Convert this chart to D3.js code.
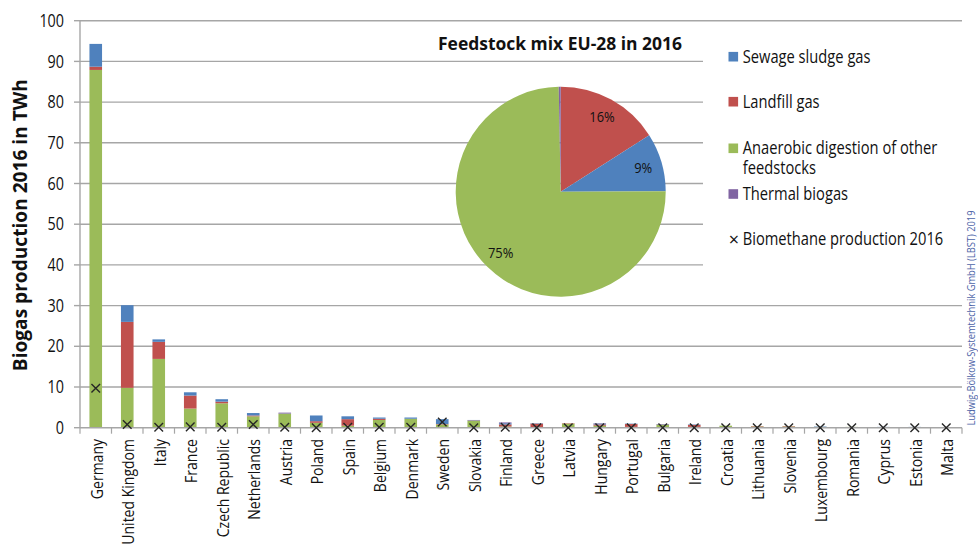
<!DOCTYPE html>
<html><head><meta charset="utf-8">
<script src="https://cdn.jsdelivr.net/npm/d3@7"></script>
<style>body{margin:0;background:#fff;} svg{display:block;} text{font-family:"Open Sans",sans-serif;fill:#111;}</style>
</head><body><svg id="c" width="978" height="544"></svg>
<script>
// ---------- data ----------
const countries = ["Germany","United Kingdom","Italy","France","Czech Republic","Netherlands","Austria","Poland","Spain","Belgium","Denmark","Sweden","Slovakia","Finland","Greece","Latvia","Hungary","Portugal","Bulgaria","Ireland","Croatia","Lithuania","Slovenia","Luxembourg","Romania","Cyprus","Estonia","Malta"];
const anaerobic = [87.9,9.8,16.9,4.7,6.0,2.8,3.4,1.2,0.5,1.9,2.2,0.8,1.7,0.3,0.1,1.0,0.5,0.2,0.7,0.2,0.5,0.3,0.3,0.2,0.2,0.1,0.1,0];
const landfill  = [0.8,16.2,4.2,3.2,0.4,0.2,0.1,0.4,1.6,0.3,0,0.1,0.1,0.5,0.9,0.1,0.3,0.7,0.1,0.5,0,0.1,0.1,0,0,0,0,0];
const sewage    = [5.6,4.1,0.6,0.8,0.6,0.6,0.1,1.4,0.7,0.3,0.3,1.2,0.1,0.3,0.1,0,0.2,0.1,0.1,0.1,0,0,0,0.1,0,0.1,0.1,0];
const thermal   = [0,0,0,0,0,0,0.1,0,0,0,0,0,0,0.2,0,0,0.1,0,0,0,0,0,0,0,0,0,0,0];
const biomethane= [9.7,0.8,0.1,0.2,0.1,0.8,0.1,0,0.1,0.1,0.1,1.4,0,0.1,0,0,0,0,0,0,0,0,0,0,0,0,0,0];
const yTicks = [0,10,20,30,40,50,60,70,80,90,100];
const pieLabels = ["Landfill gas","Sewage sludge gas","Anaerobic digestion of other feedstocks","Thermal biogas"];
const pieValues = [16,9,75,0.3];
const pieText = ["16%","9%","75%",""];
const legendLabels = [["Sewage sludge gas"],["Landfill gas"],["Anaerobic digestion of other","feedstocks"],["Thermal biogas"],["Biomethane production 2016"]];
const titleText = "Feedstock mix EU-28 in 2016";
const yLabel = "Biogas production 2016 in TWh";
const credit = "Ludwig-Bölkow-Systemtechnik GmbH (LBST)  2019";

// ---------- styles ----------
const C = {sewage:"#4f81bd", landfill:"#c0504d", anaerobic:"#9bbb59", thermal:"#8064a2", grid:"#a6a6a6"};
const svg = d3.select("#c");
const x = d3.scaleBand().domain(countries).range([80,962]).padding(0);
const y = d3.scaleLinear().domain([0,100]).range([427.7,20.7]);

function ct(g,px,py,str,o){
  return g.append("text")
    .attr("transform",`translate(${px},${py}) rotate(${o.rot||0}) scale(${o.sx||0.85},1)`)
    .attr("text-anchor",o.anchor||"start")
    .attr("dy",o.dy||"0.35em")
    .style("font-size",o.size+"px")
    .style("font-weight",o.weight||400)
    .text(str);
}

// gridlines
svg.append("g").selectAll("line").data(yTicks.filter(d=>d>0)).join("line")
  .attr("x1",80).attr("x2",962).attr("y1",d=>y(d)).attr("y2",d=>y(d))
  .attr("stroke",C.grid).attr("stroke-width",1.4);
// legend area covers grid
svg.append("rect").attr("x",703).attr("y",30).attr("width",262).attr("height",246).attr("fill","#fff");

// y axis
const ya = svg.append("g");
ya.append("line").attr("x1",80).attr("x2",80).attr("y1",y(100)).attr("y2",y(0)).attr("stroke",C.grid).attr("stroke-width",1.4);
ya.selectAll(".t").data(yTicks).join("line").attr("x1",74).attr("x2",80).attr("y1",d=>y(d)).attr("y2",d=>y(d)).attr("stroke",C.grid).attr("stroke-width",1.4);
yTicks.forEach(d=>ct(ya,64,y(d),String(d),{size:17.5,anchor:"end",sx:0.82}));
svg.append("text").attr("transform",`translate(27,${(y(0)+y(100))/2+1}) rotate(-90)`)
  .attr("text-anchor","middle").style("font-size","19.5px").style("font-weight",700)
  .attr("textLength",292).attr("lengthAdjust","spacingAndGlyphs").text(yLabel);

// bars
const rows = countries.map((c,i)=>({c, anaerobic:anaerobic[i], landfill:landfill[i], sewage:sewage[i], thermal:thermal[i]}));
const keys = ["anaerobic","landfill","sewage","thermal"];
const stack = d3.stack().keys(keys)(rows);
const bw = x.bandwidth()*0.4;
svg.append("g").selectAll("g").data(stack).join("g").attr("fill",d=>C[d.key])
  .selectAll("rect").data(d=>d).join("rect")
  .attr("x",d=>x(d.data.c)+(x.bandwidth()-bw)/2).attr("width",bw)
  .attr("y",d=>y(d[1])).attr("height",d=>Math.max(0,y(d[0])-y(d[1])));

// x axis
const xa = svg.append("g");
xa.append("line").attr("x1",80).attr("x2",962).attr("y1",y(0)).attr("y2",y(0)).attr("stroke",C.grid).attr("stroke-width",1.4);
const bounds = countries.map(c=>x(c)).concat([x.range()[1]]);
xa.selectAll(".t").data(bounds).join("line").attr("x1",d=>d).attr("x2",d=>d).attr("y1",y(0)).attr("y2",y(0)+6).attr("stroke",C.grid).attr("stroke-width",1.2);
countries.forEach(c=>ct(xa,x(c)+x.bandwidth()/2+1,439,c,{size:16.5,anchor:"end",rot:-90,sx:0.85}));

// biomethane markers
const s=4.3;
svg.append("g").selectAll("path").data(biomethane).join("path")
  .attr("d",(d,i)=>{const cx=x(countries[i])+x.bandwidth()/2, cy=y(d);
    return `M${cx-s},${cy-s}L${cx+s},${cy+s}M${cx-s},${cy+s}L${cx+s},${cy-s}`;})
  .attr("stroke","#262626").attr("stroke-width",1.4).attr("fill","none");

// pie
const pcx=560.7, pcy=191.7, R=105;
const pieCols=[C.landfill,C.sewage,C.anaerobic,C.thermal];
const arcs = d3.pie().sort(null).value(d=>d)(pieValues);
const arc = d3.arc().innerRadius(0).outerRadius(R);
const lab = d3.arc().innerRadius(86).outerRadius(86);
const pg = svg.append("g").attr("transform",`translate(${pcx},${pcy})`);
pg.selectAll("path").data(arcs).join("path").attr("d",arc).attr("fill",(d,i)=>pieCols[i]);
arcs.forEach((a,i)=>{ if(pieText[i]){ const p=lab.centroid(a); ct(pg,p[0],p[1],pieText[i],{size:15,anchor:"middle",sx:0.86}); }});
svg.append("text").attr("x",560).attr("y",50).attr("text-anchor","middle")
  .style("font-size","18.5px").style("font-weight",700)
  .attr("textLength",244).attr("lengthAdjust","spacingAndGlyphs").text(titleText);

// legend
const lg = svg.append("g");
const legCols=[C.sewage,C.landfill,C.anaerobic,C.thermal];
const legY=[56.7,101.7,148.3,194,239.3];
legendLabels.forEach((lines,i)=>{
  if(i<4) lg.append("rect").attr("x",728.5).attr("y",legY[i]-4.8).attr("width",9.6).attr("height",9.6).attr("fill",legCols[i]);
  else ct(lg,734,legY[i],"×",{size:18,anchor:"middle",sx:1});
  lines.forEach((t,j)=>ct(lg,742.7,legY[i]+j*20,t,{size:17.5,sx:0.84}));
});

// credit
svg.append("text").attr("transform","translate(971,318) rotate(-90)")
  .attr("text-anchor","middle").attr("dy","0.35em").style("font-size","10px").style("fill","#4d64a8")
  .attr("textLength",215).attr("lengthAdjust","spacingAndGlyphs").text(credit);
</script></body></html>
